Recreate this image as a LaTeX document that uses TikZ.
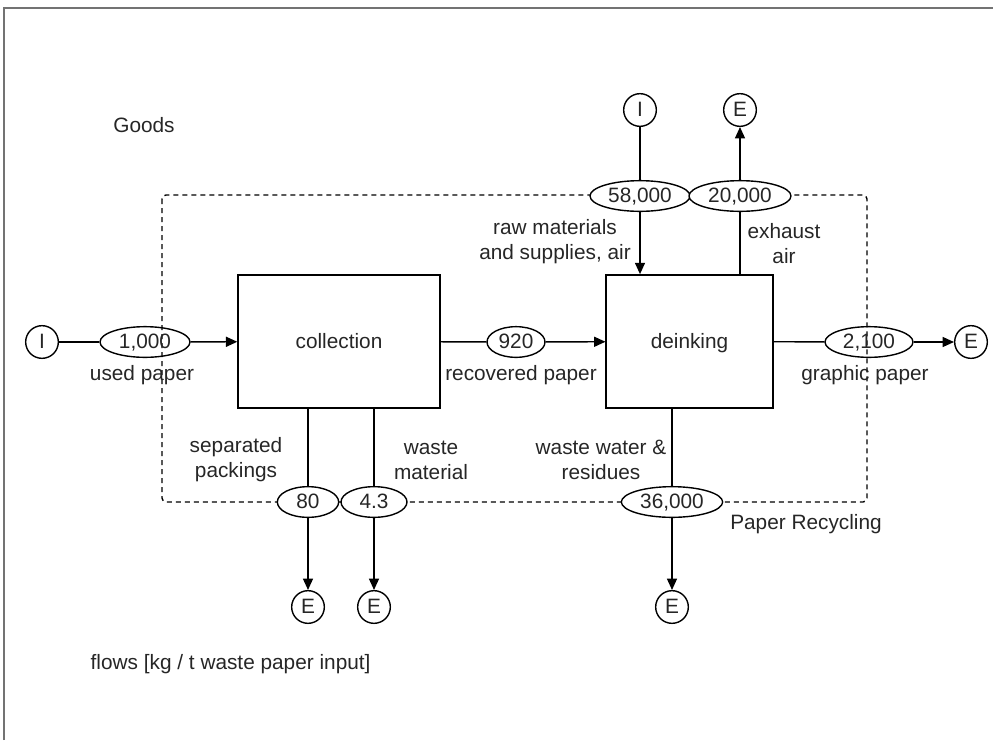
\documentclass[tikz,border=0pt]{standalone}
\usepackage{fontspec}
\setmainfont{Liberation Sans}
\usetikzlibrary{shapes.geometric, arrows.meta}

\begin{document}
\begin{tikzpicture}[x=0.75pt, y=-0.75pt, line width=1.05pt,
    every node/.style={font=\fontsize{15.6}{18.75}\selectfont, text=black!85},
    oneline/.style={text height=11.2pt, text depth=1.2pt},
    flowval/.style={draw, ellipse, oneline, minimum height=23pt, inner sep=0pt},
    proc/.style={draw, rectangle, oneline, minimum height=100pt},
    term/.style={draw, circle, oneline, minimum size=24.5pt, inner sep=0pt},
    lbl/.style={align=center},
    ->/.style={-{Triangle[length=8.5pt, width=7.5pt]}}]
    \useasboundingbox (0,0) rectangle (993,740);
    % Frame and system boundary
    \draw[black!55, line width=1.1pt] (4,740) -- (4,8) -- (993,8);
    \draw[dash pattern=on 3.75pt off 3pt, rounded corners=3pt] (162,195) rectangle (867,502);

    % Processes
    \node[proc, minimum width=151.5pt] (coll) at (339,341.5) {collection};
    \node[proc, minimum width=125pt] (deink) at (689.5,341.5) {deinking};

    % Imports and exports
    \node[term] (inL) at (42,342) {I};
    \node[term] (outR) at (971,342) {E};
    \node[term] (inT) at (640,110) {I};
    \node[term] (outT) at (740,110) {E};
    \node[term] (outB1) at (308,607) {E};
    \node[term] (outB2) at (374,607) {E};
    \node[term] (outB3) at (672,607) {E};

    % Flow values
    \node[flowval, minimum width=67.5pt] (v1000) at (145,342) {1,000};
    \node[flowval, minimum width=43.5pt] (v920) at (516,342) {920};
    \node[flowval, minimum width=66pt] (v2100) at (869,342) {2,100};
    \node[flowval, fill=white, minimum width=75pt] (v58000) at (640,196) {58,000};
    \node[flowval, fill=white, minimum width=76.5pt] (v20000) at (740,196) {20,000};
    \node[flowval, fill=white, minimum width=46pt] (v80) at (308,502) {80};
    \node[flowval, fill=white, minimum width=49.5pt] (v43) at (374,502) {4.3};
    \node[flowval, fill=white, minimum width=76pt] (v36000) at (672,502) {36,000};

    % Flows
    \draw (inL) -- (v1000);
    \draw[->] (v1000) -- (coll);
    \draw (coll) -- (v920);
    \draw[->] (v920) -- (deink);
    \draw (deink) -- (v2100);
    \draw[->] (v2100) -- (outR);
    \draw (inT) -- (v58000);
    \draw[->] (v58000) -- (v58000 |- deink.north);
    \draw (deink.north -| v20000) -- (v20000);
    \draw[->] (v20000) -- (outT);
    \draw (coll.south -| v80) -- (v80);
    \draw[->] (v80) -- (outB1);
    \draw (coll.south -| v43) -- (v43);
    \draw[->] (v43) -- (outB2);
    \draw (deink.south -| v36000) -- (v36000);
    \draw[->] (v36000) -- (outB3);

    % Labels
    \node (goods) at (144,125) {Goods};
    \node (used) at (142,375) {used paper};
    \node (recov) at (521,375) {recovered paper};
    \node (graph) at (865,375) {graphic paper};
    \node[lbl] (raw) at (555,241.5) {raw materials\\and supplies, air};
    \node[lbl] (exh) at (784,243.5) {exhaust\\air};
    \node[lbl] (sep) at (236,460) {separated\\packings};
    \node[lbl] (wmat) at (431,460) {waste\\material};
    \node[lbl] (wwat) at (601,460) {waste water \&\\residues};
    \node (recyc) at (806,524) {Paper Recycling};
    \node[anchor=west, inner sep=0pt] (unit) at (90,664) {flows [kg / t waste paper input]};
\end{tikzpicture}
\end{document}
